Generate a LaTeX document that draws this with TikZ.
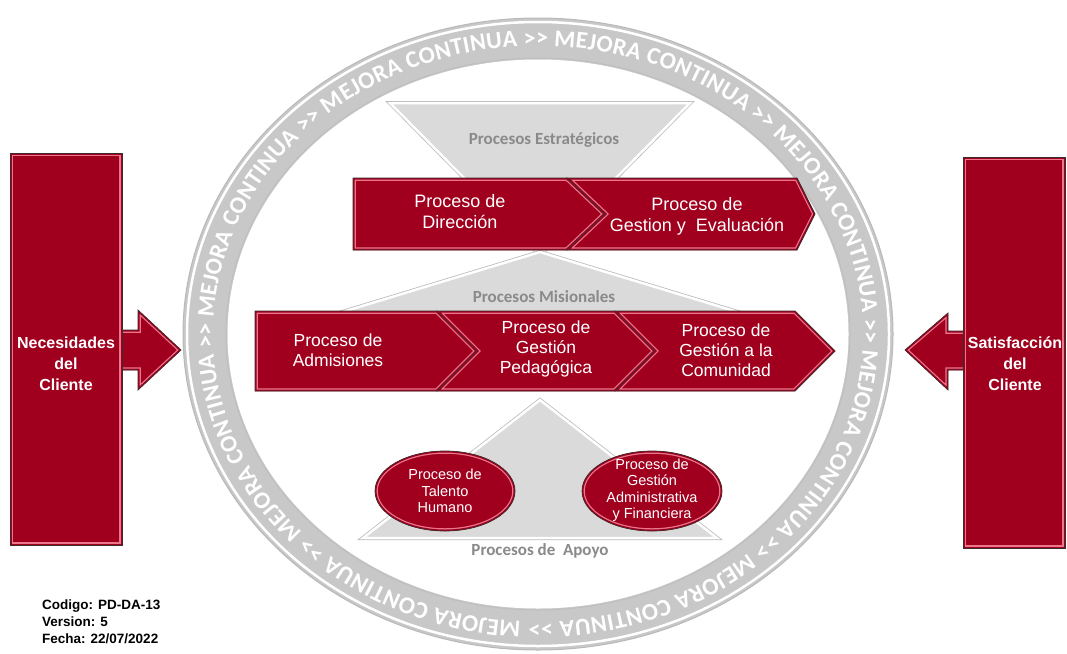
\documentclass[tikz,border=0pt]{standalone}
\usepackage{fontspec}
\setmainfont{Liberation Sans}
\newfontfamily\calfont{Carlito}
\usetikzlibrary{decorations.text}

\definecolor{procred}{RGB}{160,0,30}
\definecolor{procpink}{RGB}{236,118,140}
\definecolor{procedge}{RGB}{60,45,45}
\definecolor{ringgray}{RGB}{200,200,200}
\definecolor{trigray}{RGB}{218,218,218}
\definecolor{labelgray}{RGB}{138,138,138}

% red shape with a light bevel line inside its border
\newcommand{\bevelshape}[1]{%
  \begin{scope}
    \clip #1;
    \fill[procred] #1;
    \draw[procpink, line width=5.5pt] #1;
    \draw[procred, line width=3pt] #1;
  \end{scope}
  \draw[procedge, line width=0.7pt] #1;}

\begin{document}
\begin{tikzpicture}[x=1pt, y=-1pt,
    redtext/.style={text=white, align=center, inner sep=0pt, font=\fontsize{18}{21}\selectfont},
    ovaltext/.style={text=white, align=center, inner sep=0pt, font=\fontsize{14.5}{16.5}\selectfont},
    sidetext/.style={text=white, align=center, inner sep=0pt, font=\bfseries\fontsize{16}{21}\selectfont},
    graytext/.style={text=labelgray, inner sep=0pt, font=\calfont\bfseries\fontsize{17}{20}\selectfont},
    tri/.style={fill=trigray, draw=white, line width=2.5pt, preaction={draw=gray!55, line width=4pt}},
    ringword/.style={decorate, decoration={text along path, text align=fit to path, text color=white,
      text={|\calfont\bfseries\fontsize{24}{26}\selectfont|MEJORA CONTINUA >> MEJORA CONTINUA >> MEJORA CONTINUA >> MEJORA CONTINUA >> MEJORA CONTINUA >> MEJORA CONTINUA >> MEJORA CONTINUA >> MEJORA CONTINUA >>}}}]
    \useasboundingbox (0,0) rectangle (1067,653);

    % ring
    \fill[ringgray, draw=gray!55, line width=1pt] (538,334) ellipse [x radius=355, y radius=316];
    \draw[white, line width=2.5pt] (538,334) ellipse [x radius=351, y radius=312];
    \draw[gray!50, line width=1pt] (538,334) ellipse [x radius=312, y radius=276];
    \fill[white, draw=white, line width=3pt] (538,334) ellipse [x radius=309, y radius=273];
    \path[ringword] (538,334) ++(93:325 and 288) arc[start angle=93, end angle=451.5, x radius=325, y radius=288];

    % triangles
    \draw[tri] (390,103) -- (690,103) -- (540,255) -- cycle;
    \draw[tri] (540,252) -- (797,330) -- (283,330) -- cycle;
    \draw[tri] (540,400) -- (717,538) -- (363,538) -- cycle;
    \node[graytext] (estrat) at (544,140) {Procesos Estratégicos};
    \node[graytext] (mision) at (544,297) {Procesos Misionales};
    \node[graytext] (apoyo) at (540,551) {Procesos de~ Apoyo};

    % strategic row
    \bevelshape{(353,178) -- (567,178) -- (605,214) -- (567,250) -- (353,250) -- cycle}
    \bevelshape{(567,178) -- (797,178) -- (815,214) -- (797,250) -- (567,250) -- (605,214) -- cycle}
    \node[redtext] (direccion) at (460,212) {Proceso de\\Dirección};
    \node[redtext] (evaluacion) at (697,216) {Proceso de\\Gestion y~ Evaluación};

    % missional row
    \bevelshape{(255,311) -- (437,311) -- (477,351) -- (437,391) -- (255,391) -- cycle}
    \bevelshape{(437,311) -- (615,311) -- (655,351) -- (615,391) -- (437,391) -- (477,351) -- cycle}
    \bevelshape{(615,311) -- (795,311) -- (835,351) -- (795,391) -- (615,391) -- (655,351) -- cycle}
    \node[redtext, font=\fontsize{17.5}{20}\selectfont] (admisiones) at (338,350) {Proceso de\\Admisiones};
    \node[redtext, font=\fontsize{17.5}{20}\selectfont] (pedagogica) at (546,349) {Proceso de\\Gestión\\Pedagógica};
    \node[redtext, font=\fontsize{17.5}{20}\selectfont] (comunidad) at (726,350) {Proceso de\\Gestión a la\\Comunidad};

    % support ovals
    \bevelshape{(445,491) ellipse [x radius=70, y radius=40]}
    \bevelshape{(652,491) ellipse [x radius=70, y radius=40]}
    \node[ovaltext] (talento) at (445,491) {Proceso de\\Talento\\Humano};
    \node[ovaltext] (financiera) at (652,490) {Proceso de\\Gestión\\Administrativa\\y Financiera};

    % client blocks
    \bevelshape{(118,330) -- (138,330) -- (138,310) -- (181,350) -- (138,390) -- (138,370) -- (118,370) -- cycle}
    \bevelshape{(10,153) -- (122,153) -- (122,545) -- (10,545) -- cycle}
    \node[sidetext] (necesidades) at (66,364) {Necesidades\\del\\Cliente};
    \bevelshape{(968,331) -- (948,331) -- (948,313) -- (905,350) -- (948,390) -- (948,370) -- (968,370) -- cycle}
    \bevelshape{(963,157) -- (1065,157) -- (1065,548) -- (963,548) -- cycle}
    \node[sidetext] (satisfaccion) at (1015,364) {Satisfacción\\del\\Cliente};

    \node[anchor=north west, align=left, inner sep=0pt, font=\bfseries\fontsize{13.5}{17}\selectfont] (codigo) at (42,600) {Codigo: PD-DA-13\\Version: 5\\Fecha: 22/07/2022};
\end{tikzpicture}
\end{document}
